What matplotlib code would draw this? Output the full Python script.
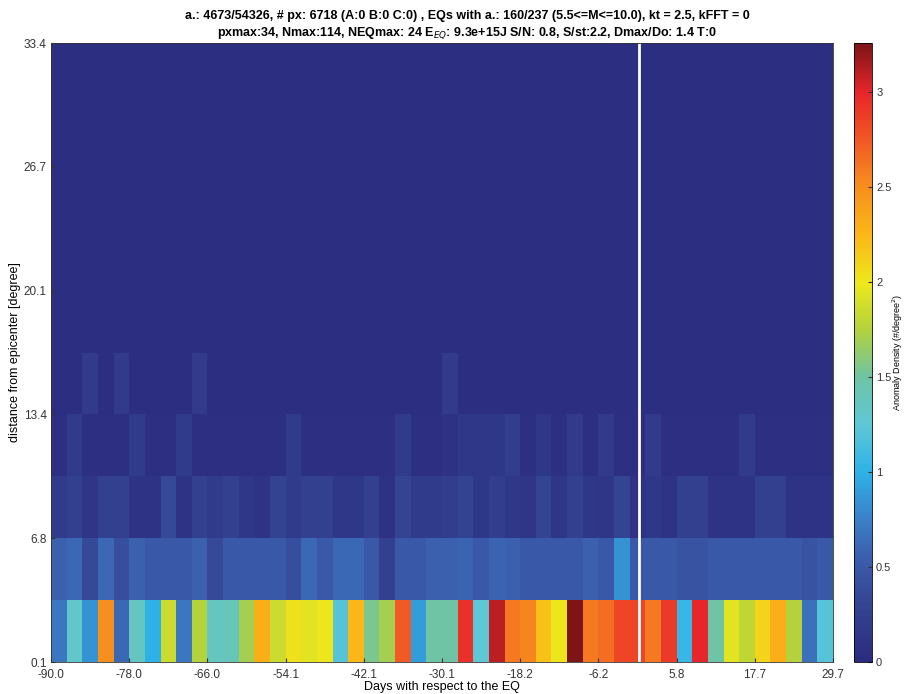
import numpy as np
import matplotlib
matplotlib.use('Agg')
import matplotlib.pyplot as plt
from matplotlib.colors import LinearSegmentedColormap

plt.rcParams['font.family'] = ['Liberation Sans', 'DejaVu Sans']

# day bins (50 bins of ~2.4 days) and distance bins (10 bins of 3.33 degree)
day_min, day_max, n_days = -90.0, 29.7, 50
dist_min, dist_max, n_dist = 0.1, 33.4, 10

# anomaly density per row, nearest to epicenter first
row0 = [0.70, 1.30, 0.85, 2.50, 0.60, 1.35, 1.00, 1.85, 0.70, 1.75,
        1.35, 1.40, 1.70, 2.30, 1.85, 2.05, 1.95, 2.00, 1.20, 2.25,
        1.55, 1.70, 2.75, 0.90, 1.50, 1.50, 2.95, 1.25, 3.10, 2.60,
        2.55, 2.20, 2.00, 3.25, 2.60, 2.65, 2.85, 2.85, 2.60, 2.90,
        1.05, 3.00, 1.50, 1.95, 1.80, 2.10, 2.30, 1.75, 0.65, 1.20]
row1 = [0.55, 0.60, 0.35, 0.60, 0.40, 0.55, 0.50, 0.50, 0.50, 0.55,
        0.35, 0.50, 0.50, 0.50, 0.50, 0.40, 0.60, 0.50, 0.60, 0.60,
        0.50, 0.25, 0.50, 0.50, 0.55, 0.55, 0.58, 0.50, 0.58, 0.55,
        0.50, 0.50, 0.50, 0.50, 0.55, 0.50, 0.85, 0.50, 0.50, 0.50,
        0.45, 0.45, 0.50, 0.50, 0.50, 0.50, 0.50, 0.50, 0.45, 0.50]
row2 = [0.20, 0.25, 0.12, 0.25, 0.25, 0.10, 0.10, 0.35, 0.10, 0.25,
        0.20, 0.25, 0.15, 0.10, 0.28, 0.20, 0.25, 0.25, 0.15, 0.15,
        0.25, 0.08, 0.30, 0.20, 0.20, 0.22, 0.28, 0.15, 0.22, 0.15,
        0.12, 0.30, 0.12, 0.25, 0.15, 0.12, 0.30, 0.10, 0.15, 0.10,
        0.25, 0.25, 0.10, 0.10, 0.10, 0.25, 0.25, 0.10, 0.10, 0.10]
row3 = [0.05, 0.20, 0.05, 0.05, 0.05, 0.20, 0.05, 0.05, 0.20, 0.05,
        0.05, 0.05, 0.05, 0.05, 0.05, 0.20, 0.05, 0.05, 0.05, 0.05,
        0.05, 0.05, 0.20, 0.05, 0.05, 0.08, 0.15, 0.15, 0.15, 0.22,
        0.05, 0.15, 0.05, 0.18, 0.05, 0.18, 0.05, 0.05, 0.20, 0.05,
        0.05, 0.05, 0.05, 0.05, 0.20, 0.05, 0.05, 0.05, 0.05, 0.05]
row4 = [0.03, 0.03, 0.18, 0.03, 0.18, 0.03, 0.03, 0.03, 0.03, 0.18,
        0.03, 0.03, 0.03, 0.03, 0.03, 0.03, 0.03, 0.03, 0.03, 0.03,
        0.03, 0.03, 0.03, 0.03, 0.03, 0.18, 0.03, 0.03, 0.03, 0.03,
        0.03, 0.03, 0.03, 0.03, 0.03, 0.03, 0.03, 0.03, 0.03, 0.03,
        0.03, 0.03, 0.03, 0.03, 0.03, 0.03, 0.03, 0.03, 0.03, 0.03]
far_rows = [0.03] * n_days  # rows 5..9 look uniform

x_ticklabels = ['-90.0', '-78.0', '-66.0', '-54.1', '-42.1', '-30.1',
                '-18.2', '-6.2', '5.8', '17.7', '29.7']
y_ticklabels = ['0.1', '6.8', '13.4', '20.1', '26.7', '33.4']
cbar_ticks = [0, 0.5, 1, 1.5, 2, 2.5, 3]
vmax = 3.26

title = ('a.: 4673/54326, # px: 6718 (A:0 B:0 C:0) , EQs with a.: 160/237 (5.5<=M<=10.0), kt = 2.5, kFFT = 0\n'
         'pxmax:34, Nmax:114, NEQmax: 24 E$_{EQ}$: 9.3e+15J S/N: 0.8, S/st:2.2, Dmax/Do: 1.4 T:0')

# faded jet-like colormap as it appears in the picture
cmap = LinearSegmentedColormap.from_list('faded_jet', [
    (0.00, '#2b2c80'), (0.077, '#33408f'), (0.153, '#3a58a8'),
    (0.23, '#3a80c8'), (0.307, '#2db3e8'), (0.383, '#5ec8d6'),
    (0.46, '#6fc4a4'), (0.537, '#b3d23c'), (0.613, '#ede81c'),
    (0.69, '#fbb717'), (0.767, '#f7901e'), (0.843, '#f15a24'),
    (0.92, '#e8262a'), (1.00, '#7d1416')])

Z = np.array([row0, row1, row2, row3, row4] + [far_rows] * (n_dist - 5))
x_edges = np.linspace(day_min, day_max, n_days + 1)
y_edges = np.linspace(dist_min, dist_max, n_dist + 1)

fig = plt.figure(figsize=(9.08, 6.94), dpi=100)
ax = fig.add_axes([0.0562, 0.0461, 0.8612, 0.8919])
cax = fig.add_axes([0.9405, 0.0461, 0.0198, 0.8919])

mesh = ax.pcolormesh(x_edges, y_edges, Z, cmap=cmap, vmin=0, vmax=vmax, shading='flat')
ax.axvline(0, color='white', lw=2)

ax.set_xlim(day_min, day_max)
ax.set_ylim(dist_min, dist_max)
ax.set_xticks(np.linspace(day_min, day_max, len(x_ticklabels)))
ax.set_xticklabels(x_ticklabels)
ax.set_yticks(np.linspace(dist_min, dist_max, len(y_ticklabels)))
ax.set_yticklabels(y_ticklabels)
ax.tick_params(direction='in', labelsize=8.5, colors='#333333', length=3)
ax.tick_params(axis='x', pad=5)
ax.tick_params(axis='y', pad=3)
for s in ax.spines.values():
    s.set_color('#333333')
    s.set_linewidth(0.6)

ax.set_xlabel('Days with respect to the EQ', fontsize=9, labelpad=0)
ax.set_ylabel('distance from epicenter [degree]', fontsize=9, labelpad=2)
ax.set_title(title, fontsize=9, fontweight='bold', pad=5, linespacing=1.35, x=0.532)

cb = fig.colorbar(mesh, cax=cax, ticks=cbar_ticks)
cb.ax.set_yticklabels(['0', '0.5', '1', '1.5', '2', '2.5', '3'])
cb.ax.tick_params(direction='in', labelsize=8, length=3, colors='#333333', pad=3)
cb.outline.set_linewidth(0.6)
cb.set_label('Anomaly Density (#/degree$^2$)', fontsize=6.5, labelpad=-1)

fig.savefig('out.png', dpi=100)
